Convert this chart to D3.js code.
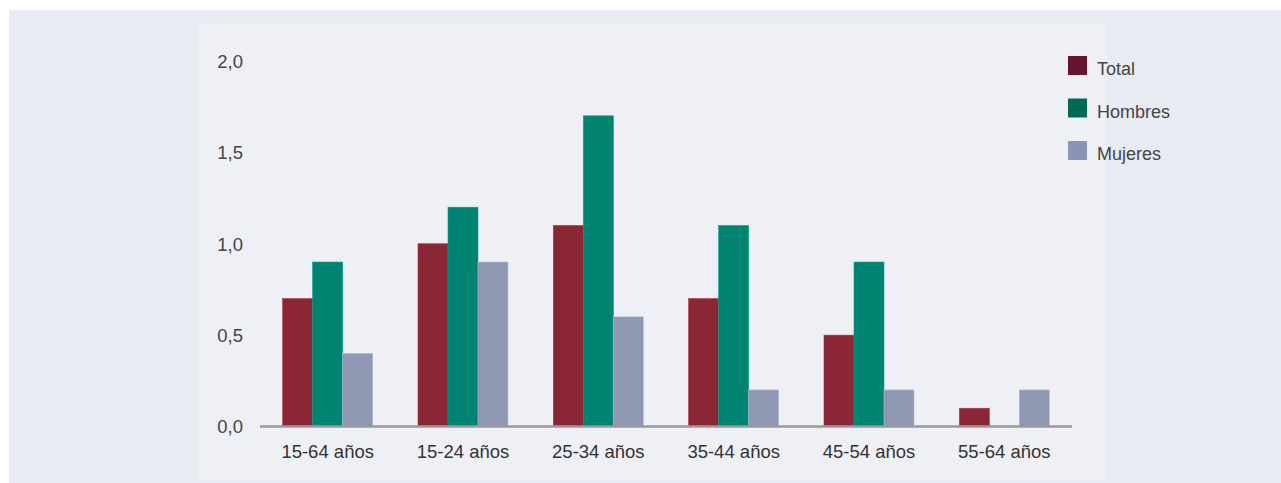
<!DOCTYPE html>
<html>
<head>
<meta charset="utf-8">
<script src="https://cdn.jsdelivr.net/npm/d3@7"></script>
<style>
  html, body { margin: 0; padding: 0; background: #ffffff; }
  svg { display: block; font-family: "Liberation Sans", Arial, Helvetica, sans-serif; }
</style>
</head>
<body>
<svg id="chart" width="1281" height="483"></svg>
<script>
// Age groups on the x axis
const categories = ["15-64 años", "15-24 años", "25-34 años", "35-44 años", "45-54 años", "55-64 años"];
// Series names, in legend order
const seriesNames = ["Total", "Hombres", "Mujeres"];
// Values per series (null = no bar)
const totalValues   = [0.7, 1.0, 1.1, 0.7, 0.5, 0.1];
const hombresValues = [0.9, 1.2, 1.7, 1.1, 0.9, null];
const mujeresValues = [0.4, 0.9, 0.6, 0.2, 0.2, 0.2];
// Y axis ticks
const yTicks = [0, 0.5, 1.0, 1.5, 2.0];

const seriesValues = [totalValues, hombresValues, mujeresValues];
const barColors = ["#8b2635", "#008471", "#8f97b2"];
const legendColors = ["#65152f", "#006a55", "#8a95b5"];
const textFont = "Liberation Sans, Arial, sans-serif";

const svg = d3.select("#chart");

// Backgrounds: outer band and inner chart panel
svg.append("rect").attr("x", 9).attr("y", 10).attr("width", 1272).attr("height", 473).attr("fill", "#e9ebf3");
svg.append("rect").attr("x", 197).attr("y", 24).attr("width", 910).attr("height", 456).attr("fill", "#eff0f5");

const x = d3.scaleBand().domain(categories).range([260, 1072]).paddingInner(0).paddingOuter(0);
const y = d3.scaleLinear().domain([0, 2]).range([426.5, 61]);
const xs = d3.scaleBand().domain(seriesNames).range([-45, 45]);

// Bars
const groups = svg.append("g").selectAll("g")
  .data(categories)
  .join("g")
  .attr("transform", d => `translate(${x(d) + x.bandwidth() / 2},0)`);

groups.selectAll("rect")
  .data((c, i) => seriesNames.map((s, j) => ({ s, j, v: seriesValues[j][i] })).filter(d => d.v != null))
  .join("rect")
  .attr("x", d => xs(d.s))
  .attr("width", xs.bandwidth())
  .attr("y", d => y(d.v))
  .attr("height", d => y(0) - y(d.v))
  .attr("fill", d => barColors[d.j])
  .attr("stroke", d => d3.color(barColors[d.j]).brighter(0.6))
  .attr("stroke-width", 0.6);

// Baseline
svg.append("line")
  .attr("x1", 260).attr("x2", 1072)
  .attr("y1", y(0)).attr("y2", y(0))
  .attr("stroke", "#9a9a9a").attr("stroke-width", 2.5);

// Y axis labels
const yAxis = d3.axisLeft(y).tickValues(yTicks).tickSize(0).tickPadding(0)
  .tickFormat(d => d3.format(".1f")(d).replace(".", ","));
svg.append("g")
  .attr("transform", "translate(243,0)")
  .call(yAxis)
  .call(g => g.select(".domain").remove())
  .call(g => g.selectAll("text")
    .attr("font-size", 18.5)
    .attr("fill", "#444")
    .attr("dy", "0.34em")
    .attr("font-family", textFont));

// X axis labels
const xAxis = d3.axisBottom(x).tickSize(0).tickPadding(0);
svg.append("g")
  .attr("transform", `translate(0,${y(0)})`)
  .call(xAxis)
  .call(g => g.select(".domain").remove())
  .call(g => g.selectAll("text")
    .attr("y", 31.5)
    .attr("dy", null)
    .attr("font-size", 18.5)
    .attr("fill", "#333")
    .attr("font-family", textFont));

// Legend
const legend = svg.append("g").selectAll("g")
  .data(seriesNames)
  .join("g")
  .attr("transform", (d, i) => `translate(1068,${56 + i * 42.5})`);
legend.append("rect")
  .attr("width", 19).attr("height", 19)
  .attr("fill", (d, i) => legendColors[i]);
legend.append("text")
  .attr("x", 29).attr("y", 19)
  .attr("font-size", 18)
  .attr("fill", "#444")
  .text(d => d);
</script>
</body>
</html>
